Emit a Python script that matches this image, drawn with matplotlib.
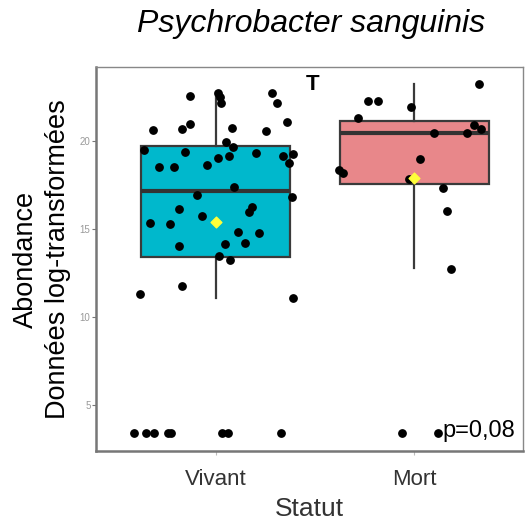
import matplotlib.pyplot as plt

plt.rcParams['font.family'] = ['Liberation Sans', 'DejaVu Sans']

# Groups
categories = ['Vivant', 'Mort']
box_colors = ['#00B8CC', '#E8878A']

# Box statistics (whisker low, Q1, median, Q3, whisker high, mean)
vivant_stats = [11.08, 13.39, 17.16, 19.73, 22.78]
mort_stats = [12.77, 17.56, 20.47, 21.12, 23.22]
means = [15.38, 17.91]

# Jittered points: horizontal offset and value
vivant_dx = [-0.129, 0.013, 0.023, 0.025, 0.282, 0.307, -0.314, -0.168, -0.129, 0.081,
             0.253, 0.361, 0.052, 0.089, -0.360, -0.155, 0.010, 0.068, 0.201, 0.337,
             0.391, 0.371, -0.285, -0.208, -0.045, 0.094, -0.096, 0.383, -0.185, 0.184,
             0.166, -0.070, -0.332, -0.230, 0.111, 0.217, 0.146, 0.045, -0.185, 0.015,
             0.072, -0.171, -0.380, 0.391,
             -0.411, -0.352, -0.311, -0.242, -0.227, 0.030, 0.063, 0.329]
vivant_y = [22.56, 22.71, 22.48, 22.18, 22.71, 22.18, 20.63, 20.66, 20.95, 20.72,
            20.59, 21.10, 19.96, 19.68, 19.49, 19.36, 19.05, 19.16, 19.30, 19.16,
            19.24, 18.73, 18.51, 18.54, 18.64, 17.37, 16.93, 16.80, 16.15, 16.27,
            15.97, 15.74, 15.36, 15.30, 14.85, 14.79, 14.22, 14.13, 14.03, 13.47,
            13.24, 11.78, 11.29, 11.06,
            3.39, 3.39, 3.39, 3.39, 3.39, 3.39, 3.39, 3.39]
mort_dx = [0.324, -0.232, -0.181, -0.018, -0.282, 0.302, 0.336, 0.098, 0.264, 0.029,
           -0.379, -0.357, -0.025, 0.146, 0.163, 0.185, -0.060, 0.118]
mort_y = [23.24, 22.29, 22.29, 21.91, 21.31, 20.89, 20.68, 20.47, 20.44, 18.98,
          18.34, 18.20, 17.82, 17.35, 16.02, 12.73, 3.39, 3.39]

y_ticks = [5, 10, 15, 20]

fig = plt.figure(figsize=(5.31, 5.21), dpi=100)
ax = fig.add_axes([0.1808, 0.1344, 0.8042, 0.737])

stats = []
for name, s, m in zip(categories, [vivant_stats, mort_stats], means):
    stats.append({'label': name, 'whislo': s[0], 'q1': s[1], 'med': s[2],
                  'q3': s[3], 'whishi': s[4], 'mean': m, 'fliers': []})

bp = ax.bxp(stats, positions=[1, 2], widths=0.75, patch_artist=True,
            showcaps=False, showmeans=False, zorder=1,
            boxprops=dict(edgecolor='#3a3a3a', linewidth=1.6),
            whiskerprops=dict(color='#3a3a3a', linewidth=1.6),
            medianprops=dict(color='#333333', linewidth=3))
for patch, c in zip(bp['boxes'], box_colors):
    patch.set_facecolor(c)

ax.scatter([1 + d for d in vivant_dx], vivant_y, s=28, color='black', zorder=3)
ax.scatter([2 + d for d in mort_dx], mort_y, s=28, color='black', zorder=3)
ax.scatter([1, 2], means, marker='D', s=30, color='#FFFF3A', zorder=4)

ax.set_xlim(0.397, 2.547)
ax.set_ylim(2.39, 24.2)
ax.set_xticks([1, 2])
ax.set_xticklabels(categories, fontsize=16, color='#333333')
ax.set_yticks(y_ticks)
ax.set_yticklabels([str(t) for t in y_ticks], fontsize=7, color='#999999')
ax.tick_params(axis='y', length=3, width=0.8, color='#777777', pad=1)
ax.tick_params(axis='x', length=3, width=0.8, color='#bbbbbb', pad=10)

for side in ['left', 'bottom']:
    ax.spines[side].set_color('#777777')
    ax.spines[side].set_linewidth(1.8)
for side in ['top', 'right']:
    ax.spines[side].set_color('#888888')
    ax.spines[side].set_linewidth(1.0)

ax.set_xlabel('Statut', fontsize=19, color='#333333', labelpad=5)
ax.set_ylabel('Abondance\nDonnées log-transformées', fontsize=19.5, labelpad=6,
              linespacing=1.3)

ax.text(1.485, 23.2, 'T', fontsize=16, fontweight='bold', ha='center', va='center')
ax.text(2.507, 3.55, 'p=0,08', fontsize=17, ha='right', va='center')

fig.text(0.586, 0.953, 'Psychrobacter sanguinis', fontsize=23, style='italic',
         ha='center', va='center')

fig.savefig('out.png', dpi=100)
